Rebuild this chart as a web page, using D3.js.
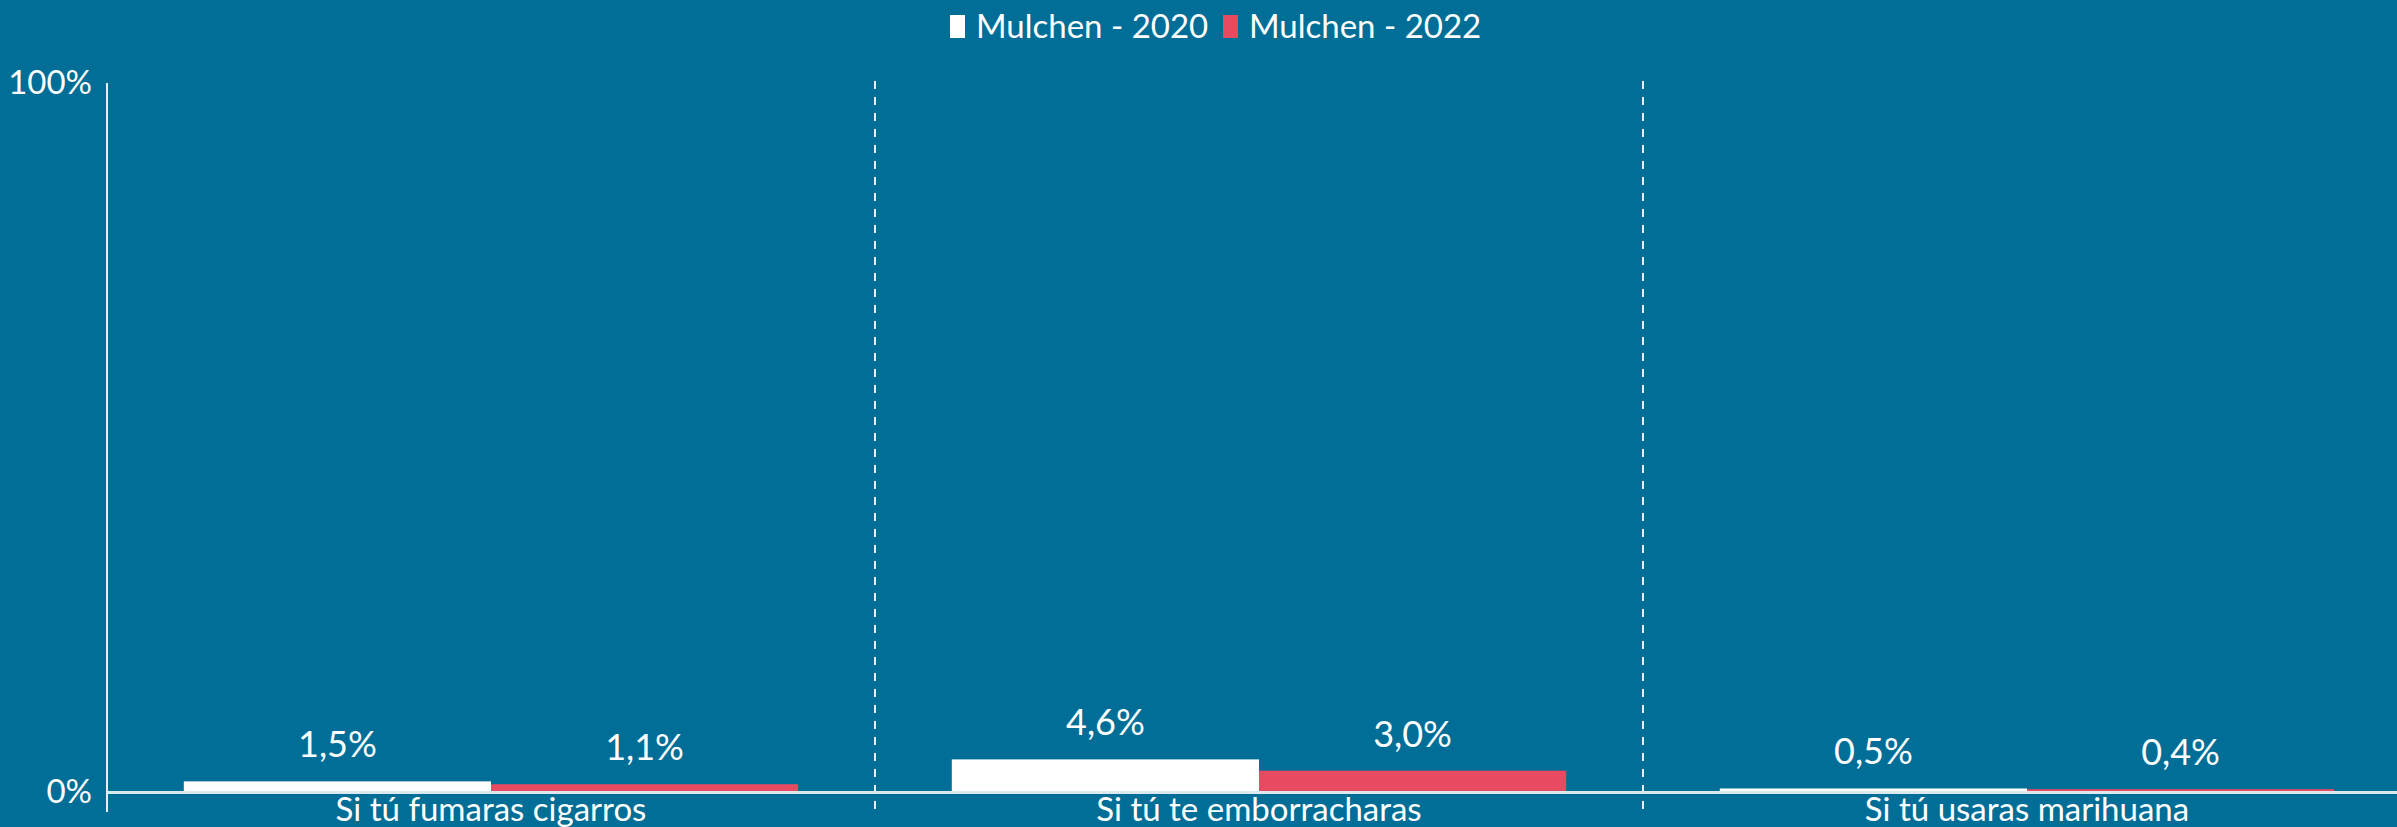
<!DOCTYPE html>
<html>
<head>
<meta charset="utf-8">
<script src="https://cdn.jsdelivr.net/npm/d3@7"></script>
<style>
  html, body { margin: 0; padding: 0; background: #006e96; }
  text { font-family: Lato, 'Open Sans', sans-serif; fill: #ffffff; }
</style>
</head>
<body>
<div id="canvas"></div>
<script>
// data
const categories = ['Si tú fumaras cigarros', 'Si tú te emborracharas', 'Si tú usaras marihuana']
const seriesNames = ['Mulchen - 2020', 'Mulchen - 2022']
const values2020 = [1.5, 4.6, 0.5]
const values2022 = [1.1, 3.0, 0.4]
const yTicks = [0, 100]

const colors = ['#ffffff', '#e84a62']

var width = 2397, height = 827
var margin = {top: 83, left: 107, bottom: 792}
var bandW = 768

var svg = d3.select('#canvas')
  .append('svg')
  .attr('width', width)
  .attr('height', height)

svg.append('rect')
  .attr('width', width)
  .attr('height', height)
  .attr('fill', '#006e96')

const x = d3.scaleBand()
  .domain(categories)
  .range([margin.left, margin.left + bandW * categories.length])

const x1 = d3.scaleBand()
  .domain(seriesNames)
  .range([bandW * 0.1, bandW * 0.9])

const y = d3.scaleLinear()
  .domain([0, 100])
  .range([margin.bottom, margin.top])

// separators between categories
svg.selectAll('.sep')
  .data(categories.slice(1))
  .enter()
  .append('line')
  .attr('x1', d => x(d))
  .attr('x2', d => x(d))
  .attr('y1', margin.top - 2)
  .attr('y2', 812)
  .attr('stroke', '#e6eef2')
  .attr('stroke-width', 2)
  .attr('stroke-dasharray', '8,8')

// y axis
const yAxis = svg.append('g')
  .attr('transform', 'translate(' + margin.left + ',0)')
  .call(d3.axisLeft(y).tickValues(yTicks).tickSize(0).tickPadding(15).tickFormat(d => d + '%'))
yAxis.select('.domain').remove()
yAxis.selectAll('text')
  .attr('font-size', '33px')
  .style('font-family', 'Lato, sans-serif')
  .attr('fill', '#ffffff')

svg.append('line')
  .attr('x1', margin.left)
  .attr('x2', margin.left)
  .attr('y1', margin.top)
  .attr('y2', 812)
  .attr('stroke', '#e6eef2')
  .attr('stroke-width', 2)

// bars
const rows = []
categories.forEach((c, i) => {
  rows.push({cat: c, s: seriesNames[0], v: values2020[i], color: colors[0]})
  rows.push({cat: c, s: seriesNames[1], v: values2022[i], color: colors[1]})
})

svg.selectAll('.bar')
  .data(rows)
  .enter()
  .append('rect')
  .attr('x', d => x(d.cat) + x1(d.s))
  .attr('y', d => y(d.v))
  .attr('width', x1.bandwidth())
  .attr('height', d => y(0) - y(d.v))
  .attr('fill', d => d.color)

svg.selectAll('.lbl')
  .data(rows)
  .enter()
  .append('text')
  .attr('x', d => x(d.cat) + x1(d.s) + x1.bandwidth() / 2)
  .attr('y', d => y(d.v) - 24)
  .attr('text-anchor', 'middle')
  .attr('font-size', '36px')
  .text(d => d.v.toFixed(1).replace('.', ',') + '%')

// baseline
svg.append('line')
  .attr('x1', margin.left)
  .attr('x2', width)
  .attr('y1', y(0) + 0.5)
  .attr('y2', y(0) + 0.5)
  .attr('stroke', '#dce9f0')
  .attr('stroke-width', 3)

// category labels
svg.selectAll('.cat')
  .data(categories)
  .enter()
  .append('text')
  .attr('x', d => x(d) + bandW / 2)
  .attr('y', 821)
  .attr('text-anchor', 'middle')
  .attr('font-size', '33px')
  .text(d => d)

// legend
const legendX = [950, 1223]
const lg = svg.selectAll('.lg')
  .data(seriesNames)
  .enter()
  .append('g')
  .attr('transform', (d, i) => 'translate(' + legendX[i] + ',0)')
lg.append('rect')
  .attr('x', 0)
  .attr('y', 15)
  .attr('width', 15)
  .attr('height', 23)
  .attr('fill', (d, i) => colors[i])
lg.append('text')
  .attr('x', 26)
  .attr('y', 38)
  .attr('font-size', '33px')
  .text(d => d)
</script>
</body>
</html>
